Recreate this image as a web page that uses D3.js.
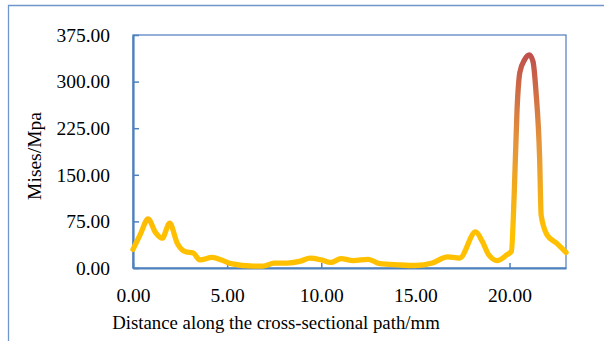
<!DOCTYPE html>
<html>
<head>
<meta charset="utf-8">
<script src="https://cdn.jsdelivr.net/npm/d3@7"></script>
<style>
  html, body { margin: 0; padding: 0; background: #fff; }
  svg { display: block; }
  text { font-family: "Liberation Serif", "Times New Roman", serif; fill: #000; }
</style>
</head>
<body>
<svg id="chart" width="604" height="341"></svg>
<script>
// Distance along the path (mm) and von Mises stress (MPa)
const distance = [0.00, 0.40, 0.80, 1.20, 1.55, 1.95, 2.35, 2.80, 3.20, 3.55, 4.20, 4.70, 5.20, 6.40, 6.90,
  7.50, 8.20, 8.90, 9.40, 10.00, 10.50, 11.05, 11.70, 12.50, 13.10, 14.10, 15.00, 15.90, 16.70, 17.35,
  18.20, 18.55, 18.90, 19.35, 19.85, 20.10, 20.25, 20.40, 20.55, 20.80, 21.05, 21.25, 21.40, 21.60, 21.68,
  22.00, 22.50, 23.00];
const mises = [30, 55, 79, 57, 48, 72, 40, 26, 24, 13, 17, 13, 7, 3, 3,
  8, 8, 11, 16, 13, 9, 15, 12, 14, 7, 5, 4, 8, 18, 16,
  58, 43, 21, 12, 21, 27, 120, 255, 315, 335, 343, 332, 286, 176, 85,
  53, 40, 25];
const xTicks = [0, 5, 10, 15, 20];
const yTicks = [0, 75, 150, 225, 300, 375];

const svg = d3.select("#chart");
const m = { left: 133, right: 566, top: 35, bottom: 268 };

const x = d3.scaleLinear().domain([0, 23]).range([m.left, m.right]);
const y = d3.scaleLinear().domain([0, 375]).range([m.bottom, m.top]);

// chart frame
svg.append("path")
  .attr("d", `M8.5,341 V5.5 H604`)
  .attr("fill", "none").attr("stroke", "#7097CB").attr("stroke-width", 1.3);

// plot area border
svg.append("rect")
  .attr("x", m.left).attr("y", m.top)
  .attr("width", m.right - m.left).attr("height", m.bottom - m.top)
  .attr("fill", "none").attr("stroke", "#5B86C2").attr("stroke-width", 1.3);

// axes with inward ticks
const xAxis = svg.append("g").attr("transform", `translate(0,${m.bottom})`)
  .call(d3.axisBottom(x).tickValues(xTicks).tickSizeInner(-5).tickSizeOuter(0).tickPadding(20)
    .tickFormat(d3.format(".2f")));
const yAxis = svg.append("g").attr("transform", `translate(${m.left},0)`)
  .call(d3.axisLeft(y).tickValues(yTicks).tickSizeInner(-6).tickSizeOuter(0).tickPadding(23)
    .tickFormat(d3.format(".2f")));
[xAxis, yAxis].forEach(g => {
  g.select(".domain").attr("stroke", "#4F81BD").attr("stroke-width", 2.2);
  g.selectAll(".tick line").attr("stroke", "#4F81BD").attr("stroke-width", 1.5);
  g.selectAll(".tick text").style("font-family", "'Liberation Serif', serif")
    .style("font-size", "19.5px").attr("fill", "#000");
});

// vertical colour ramp for the stress line
const defs = svg.append("defs");
const grad = defs.append("linearGradient").attr("id", "stressRamp")
  .attr("gradientUnits", "userSpaceOnUse")
  .attr("x1", 0).attr("x2", 0).attr("y1", y(60)).attr("y2", y(343));
grad.append("stop").attr("offset", "0%").attr("stop-color", "#FFC000");
grad.append("stop").attr("offset", "50%").attr("stop-color", "#E5943A");
grad.append("stop").attr("offset", "100%").attr("stop-color", "#C0504D");

const pts = distance.map((d, i) => [d, mises[i]]);
const line = d3.line().x(d => x(d[0])).y(d => y(d[1])).curve(d3.curveMonotoneX);
svg.append("path").datum(pts)
  .attr("d", line)
  .attr("fill", "none")
  .attr("stroke", "url(#stressRamp)")
  .attr("stroke-width", 5.3)
  .attr("stroke-linejoin", "round")
  .attr("stroke-linecap", "round");

// axis titles
svg.append("text")
  .attr("x", 276).attr("y", 329)
  .attr("text-anchor", "middle")
  .style("font-size", "18.8px")
  .text("Distance along the cross-sectional path/mm");
svg.append("text")
  .attr("transform", `translate(41,156) rotate(-90)`)
  .attr("text-anchor", "middle")
  .style("font-size", "19.5px")
  .text("Mises/Mpa");
</script>
</body>
</html>
